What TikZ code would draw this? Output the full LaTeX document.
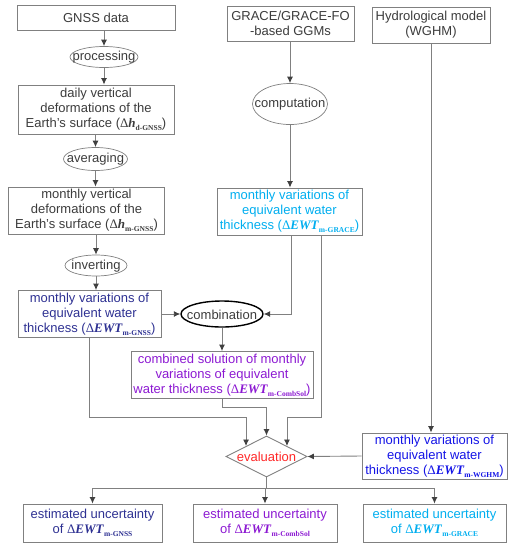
\documentclass[tikz,border=0pt]{standalone}
\usepackage{fontspec}
\setmainfont{Liberation Sans}
\newfontfamily\tnr{Liberation Serif}
\usepackage{xcolor}
\usetikzlibrary{arrows.meta,shapes.geometric}

\definecolor{linegray}{RGB}{128,128,128}
\definecolor{txtgray}{RGB}{60,60,60}
\definecolor{gnssblue}{RGB}{46,49,146}
\definecolor{gracecyan}{RGB}{0,174,239}
\definecolor{combpurple}{RGB}{140,25,210}
\definecolor{wghmblue}{RGB}{20,20,230}
\definecolor{evalred}{RGB}{255,40,40}

% delta quantity with bold italic symbol and small serif subscript
\newcommand{\dlt}[2]{{\tnr Δ\textbf{\textit{#1}}}\raisebox{-0.45ex}{\tnr\bfseries\fontsize{7.5}{7.5}\selectfont #2}}

\begin{document}
\begin{tikzpicture}[
  x=1pt, y=-1pt,
  font=\fontsize{13}{15}\selectfont,
  box/.style={draw=linegray,line width=0.9pt,align=center,inner sep=1pt,text=txtgray},
  oval/.style={ellipse,draw=linegray,line width=0.7pt,inner sep=0pt,
    label={[text=txtgray,yshift=-0.5pt]center:#1}},
  line/.style={draw=linegray,line width=0.9pt},
  arrow/.style={line,-{Latex[length=6.5pt,width=6pt,color=black!75]}}
]
\useasboundingbox (0,0) rectangle (514,550);

% GNSS column
\node[box, minimum width=158pt, minimum height=25pt] (gnss) at (96,17.5) {GNSS data};
\node[oval=processing, minimum width=68pt, minimum height=21pt] (proc) at (104,57) {};
\node[box, minimum width=156pt, minimum height=49pt] (daily) at (96,109.5)
  {daily vertical\\deformations of the\\Earth’s surface (\dlt{h}{d-GNSS})};
\node[oval=averaging, minimum width=64pt, minimum height=23pt] (avg) at (95.5,159) {};
\node[box, minimum width=156pt, minimum height=47pt] (mvert) at (86.5,210.5)
  {monthly vertical\\deformations of the\\Earth’s surface (\dlt{h}{m-GNSS})};
\node[oval=inverting, minimum width=62pt, minimum height=21pt] (inv) at (96,265.5) {};
\node[box, text=gnssblue, minimum width=143pt, minimum height=47pt] (ewtg) at (89.5,314)
  {monthly variations of\\equivalent water\\thickness (\dlt{EWT}{m-GNSS})};

% GRACE column
\node[box, minimum width=127pt, minimum height=35pt] (grace) at (290.5,23.5)
  {GRACE/GRACE-FO\\-based GGMs};
\node[oval=computation, minimum width=75pt, minimum height=41pt] (comp) at (290,104) {};
\node[box, text=gracecyan, minimum width=145pt, minimum height=47pt] (ewtgr) at (289.5,211.5)
  {monthly variations of\\equivalent water\\thickness (\dlt{EWT}{m-GRACE})};

% combination
\node[oval=combination, draw=black, line width=1.4pt, minimum width=82pt, minimum height=26pt] (comb) at (222,314) {};
\node[box, text=combpurple, minimum width=182pt, minimum height=47pt] (combsol) at (222,375)
  {combined solution of monthly\\variations of equivalent\\water thickness (\dlt{EWT}{m-CombSol})};

% hydrological model
\node[box, minimum width=118pt, minimum height=36pt] (hydro) at (431,25)
  {Hydrological model\\(WGHM)};
\node[box, text=wghmblue, minimum width=145pt, minimum height=46pt] (wghm) at (434.5,456)
  {monthly variations of\\equivalent water\\thickness (\dlt{EWT}{m-WGHM})};

% evaluation
\node[diamond, draw=linegray, line width=0.9pt, inner sep=0pt, minimum width=81pt, minimum height=41pt,
  label={[text=evalred]center:evaluation}] (eval) at (266.5,456.5) {};

\node[box, text=gnssblue, minimum width=139pt, minimum height=38pt] (unc1) at (92.5,523)
  {estimated uncertainty\\of \dlt{EWT}{m-GNSS}};
\node[box, text=combpurple, minimum width=144pt, minimum height=38pt] (unc2) at (265,523)
  {estimated uncertainty\\of \dlt{EWT}{m-CombSol}};
\node[box, text=gracecyan, minimum width=143pt, minimum height=38pt] (unc3) at (434.5,523)
  {estimated uncertainty\\of \dlt{EWT}{m-GRACE}};

\draw[arrow] (proc |- gnss.south) -- (proc.north);
\draw[arrow] (proc.south) -- (proc |- daily.north);
\draw[arrow] (avg |- daily.south) -- (avg.north);
\draw[arrow] (avg.south) -- (avg |- mvert.north);
\draw[arrow] (inv |- mvert.south) -- (inv.north);
\draw[arrow] (inv.south) -- (inv |- ewtg.north);
\draw[arrow] (ewtg.east) -- (comb.west);

\draw[arrow] (comp |- grace.south) -- (comp.north);
\draw[arrow] (comp.south) -- (comp |- ewtgr.north);
\draw[arrow] ([xshift=1.5pt]ewtgr.south) |- (comb.east);
\draw[arrow] (comb.south) -- (comb |- combsol.north);

\draw[arrow] (ewtg.south) |- ([yshift=29pt]eval.north west) -- (eval.north west);
\draw[arrow] (combsol.south) |- ([yshift=28pt]eval.north) -- (eval.north);
\draw[arrow] ([xshift=31.5pt]ewtgr.south) |- ([yshift=29pt]eval.north east) -- (eval.north east);

\draw[arrow] (hydro.south) -- (hydro.south |- wghm.north);
\draw[arrow] (wghm.west) -- (eval.east);

\coordinate (split) at ([yshift=-11pt]eval.south);
\draw[line] (eval.south) -- (split);
\draw[arrow] (split) -| (unc1.north);
\draw[arrow] (split) -- (split -| unc2.north) -- (unc2.north);
\draw[arrow] (split) -| (unc3.north);
\end{tikzpicture}
\end{document}
